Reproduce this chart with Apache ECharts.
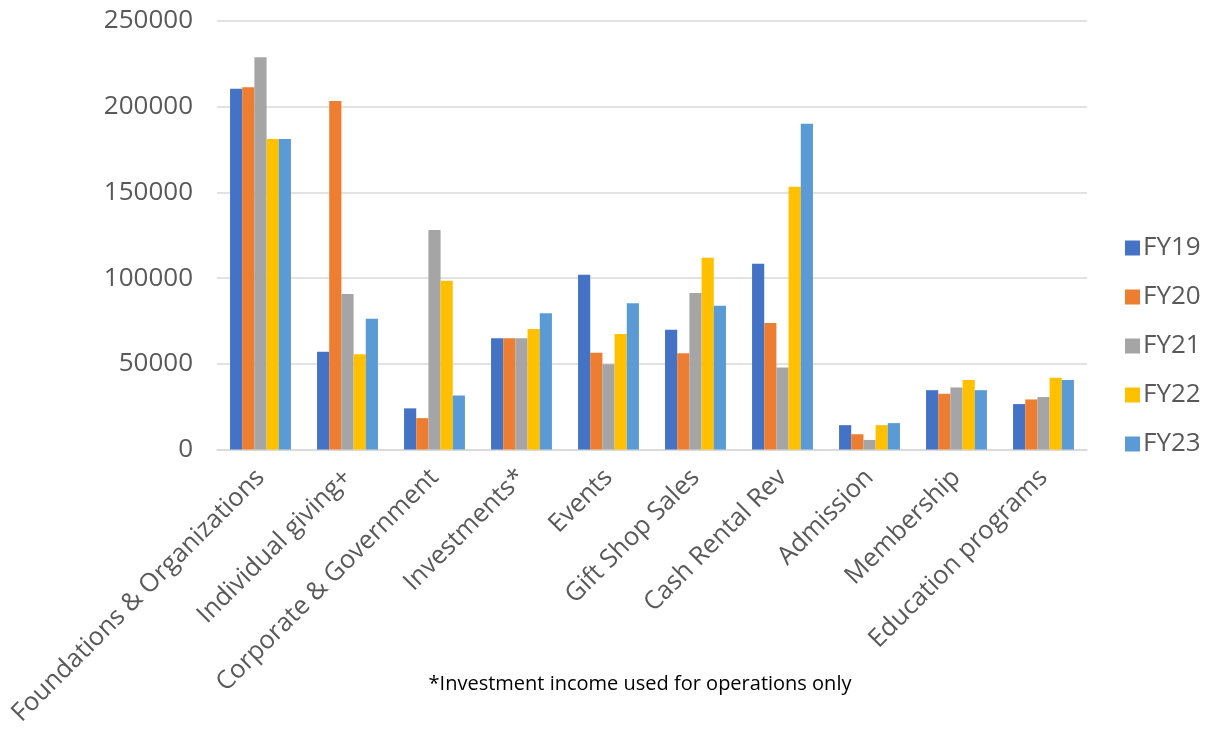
<!DOCTYPE html>
<html><head><meta charset="utf-8">
<script src="https://cdn.jsdelivr.net/npm/echarts@6/dist/echarts.min.js"></script>
<style>html,body{margin:0;padding:0;background:#fff}#c{width:1218px;height:729px}</style>
</head><body><div id="c"></div>
<script>
const categories = ["Foundations & Organizations","Individual giving+","Corporate & Government","Investments*","Events","Gift Shop Sales","Cash Rental Rev","Admission","Membership","Education programs"];
const seriesNames = ["FY19","FY20","FY21","FY22","FY23"];
const FY19 = [210500, 57000, 24000, 64900, 102000, 69900, 108300, 14200, 34600, 26500];
const FY20 = [211300, 203300, 18300, 64900, 56400, 56100, 73800, 8900, 32500, 29200];
const FY21 = [228800, 90700, 128100, 64900, 49700, 91300, 47900, 5600, 36200, 30600];
const FY22 = [181100, 55500, 98500, 70300, 67400, 111800, 153300, 14200, 40500, 41800];
const FY23 = [181100, 76300, 31500, 79500, 85300, 83900, 190100, 15400, 34600, 40500];
const colors = ["#4472C4","#ED7D31","#A5A5A5","#FFC000","#5B9BD5"];
const footnote = "*Investment income used for operations only";
const values = [FY19, FY20, FY21, FY22, FY23];
const font = "'Open Sans', 'Noto Sans', sans-serif";
const chart = echarts.init(document.getElementById('c'));
chart.setOption({
  animation: false,
  grid: {left: 217, right: 131, top: 21, bottom: 279.5, containLabel: false},
  legend: {
    orient: 'vertical', left: 1120, top: 230, itemWidth: 15, itemHeight: 15, itemGap: 23,
    icon: 'rect',
    textStyle: {fontSize: 26, color: '#595959', fontFamily: font, padding: [0,0,0,-2]},
    data: seriesNames
  },
  xAxis: {
    type: 'category', data: categories,
    axisLine: {show: true, lineStyle: {color: '#D9D9D9', width: 1.5}},
    axisTick: {show: false},
    axisLabel: {rotate: 45, interval: 0, fontSize: 25.5, color: '#595959', fontFamily: font, margin: 24}
  },
  yAxis: {
    type: 'value', min: 0, max: 250000, interval: 50000,
    axisLine: {show: false}, axisTick: {show: false},
    axisLabel: {fontSize: 26, color: '#595959', fontFamily: font, margin: 24, formatter: v => String(v)},
    splitLine: {lineStyle: {color: '#D9D9D9', width: 1.5}}
  },
  graphic: [{type: 'text', x: 640, y: 684, style: {text: footnote, fill: '#000', fontSize: 20, fontFamily: font, align: 'center', verticalAlign: 'middle'}}],
  series: seriesNames.map((n, i) => ({
    name: n, type: 'bar', data: values[i], barGap: '0%', barCategoryGap: '30%',
    itemStyle: {color: colors[i]}
  }))
});
</script></body></html>
